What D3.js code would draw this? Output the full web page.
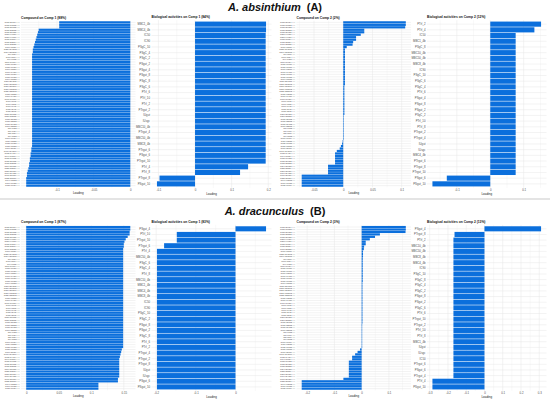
<!DOCTYPE html>
<html>
<head>
<meta charset="utf-8">
<script src="https://cdn.jsdelivr.net/npm/d3@7"></script>
<style>
  body { margin: 0; background: #fff; }
  svg { display: block; font-family: "Liberation Sans", Arial, sans-serif; }
</style>
</head>
<body>
<div id="chart"></div>
<script>
const width = 550;
const height = 400;

// Compound labels (same list order used for the compound panels)
const compounds = [
  "C15H20O4 (+)", "C15H18O3 (+)", "C15H20O3 (+)", "C15H22O3 (+)", "C15H20O5 (+)", "C30H40O6 (+)",
  "C30H40O7 (+)", "C15H18O4 (+)", "C15H22O4 (+)", "C17H22O5 (+)", "C16H18O9 (-)", "C25H24O12 (-)",
  "C34H30O15 (-)", "C9H8O4 (-)", "C10H8O4 (+)", "C9H6O3 (+)", "C11H10O4 (+)", "C15H10O6 (-)",
  "C15H10O7 (-)", "C16H12O7 (-)", "C17H14O7 (-)", "C18H16O7 (-)", "C18H16O8 (-)", "C19H18O8 (-)",
  "C21H20O11 (-)", "C21H20O12 (-)", "C27H30O16 (-)", "C21H18O12 (-)", "C22H22O12 (-)", "C15H12O5 (-)",
  "C16H14O6 (-)", "C17H16O6 (+)", "C10H16O (+)", "C10H18O (+)", "C10H14O (+)", "C15H24O (+)",
  "C15H26O (+)", "C20H30O3 (+)", "C20H32O2 (+)", "C18H30O2 (-)", "C18H32O2 (-)", "C18H34O3 (-)",
  "C16H32O2 (-)", "C7H6O3 (-)", "C7H6O4 (-)", "C8H8O4 (-)", "C9H8O3 (-)", "C10H10O4 (-)",
  "C11H12O5 (-)", "C13H16O8 (-)", "C15H18O8 (-)", "C16H20O9 (-)", "C17H24O10 (-)", "C12H14O4 (+)",
  "C14H18O4 (+)", "C15H16O2 (+)", "C15H20O2 (+)", "C15H22O2 (+)", "C24H30O8 (+)", "C25H32O9 (+)",
  "C20H26O6 (+)", "C19H24O5 (+)", "C17H20O6 (+)", "C22H28O7 (+)", "C14H12O3 (-)", "C16H16O5 (-)",
  "C13H10O4 (-)"
];

// A. absinthium - compound loadings, Comp 1 (display order, top to bottom)
const absComp1 = [
  -0.097, -0.097, -0.097, -0.125, -0.126, -0.127, -0.128, -0.129, -0.130, -0.131,
  -0.132, -0.133, -0.133, -0.134, -0.134, -0.134, -0.134, -0.134, -0.134, -0.134,
  -0.134, -0.134, -0.134, -0.134, -0.134, -0.134, -0.134, -0.134, -0.134, -0.134,
  -0.134, -0.134, -0.134, -0.134, -0.134, -0.134, -0.134, -0.134, -0.134, -0.134,
  -0.134, -0.134, -0.134, -0.134, -0.134, -0.134, -0.134, -0.134, -0.134, -0.134,
  -0.134, -0.135, -0.135, -0.136, -0.136, -0.137, -0.137, -0.138, -0.138, -0.139,
  -0.140, -0.141, -0.141, -0.142, -0.142, -0.142, -0.142
];

// A. absinthium - compound loadings, Comp 2
const absComp2 = [
  0.107, 0.107, 0.106, 0.036, 0.036, 0.030, 0.022, 0.022, 0.017, 0.016,
  0.006, 0.003, 0.003, 0.003, 0.003, 0.003, 0.003, 0.003, 0.003, 0.003,
  0.003, 0.003, 0.003, 0.003, 0.003, 0.003, 0.002, 0.002, 0.002, 0.002,
  0.002, 0.002, 0.002, 0.002, 0.002, 0.002, 0.002, 0.002, 0.001, 0.001,
  0.001, 0.001, 0.001, 0.001, 0.001, 0.001, 0.001, 0.001, -0.001, -0.002,
  -0.004, -0.006, -0.011, -0.014, -0.014, -0.014, -0.014, -0.014, -0.026, -0.026,
  -0.026, -0.026, -0.071, -0.071, -0.071, -0.071, -0.071
];

// A. dracunculus - compound loadings, Comp 1
const draComp1 = [
  0.160, 0.160, 0.159, 0.159, 0.156, 0.153, 0.151, 0.150, 0.150, 0.149,
  0.149, 0.149, 0.149, 0.149, 0.149, 0.149, 0.149, 0.149, 0.149, 0.149,
  0.149, 0.149, 0.149, 0.149, 0.149, 0.149, 0.149, 0.149, 0.149, 0.149,
  0.149, 0.149, 0.149, 0.149, 0.149, 0.149, 0.149, 0.149, 0.149, 0.149,
  0.149, 0.149, 0.149, 0.149, 0.149, 0.149, 0.149, 0.149, 0.149, 0.149,
  0.147, 0.146, 0.145, 0.144, 0.143, 0.143, 0.143, 0.143, 0.143, 0.143,
  0.143, 0.143, 0.141, 0.141, 0.111, 0.111, 0.111
];

// A. dracunculus - compound loadings, Comp 2
const draComp2 = [
  0.162, 0.162, 0.161, 0.067, 0.049, 0.030, 0.015, 0.015, 0.009, 0.008,
  0.005, 0.005, 0.005, 0.004, 0.004, 0.004, 0.004, 0.004, 0.004, 0.004,
  0.004, 0.004, 0.004, 0.003, 0.003, 0.003, 0.003, 0.003, 0.003, 0.003,
  0.003, 0.003, 0.003, 0.003, 0.003, 0.003, 0.003, 0.003, 0.003, 0.003,
  0.002, 0.002, 0.002, 0.002, 0.002, 0.002, 0.002, 0.002, 0.002, 0.002,
  -0.006, -0.015, -0.024, -0.035, -0.035, -0.047, -0.047, -0.047, -0.047, -0.047,
  -0.047, -0.047, -0.067, -0.220, -0.220, -0.220, -0.220
];

// Biological activities: labels and loadings per panel (display order)
const bioLabelsA1 = [
  "MBC1_4b", "MBC4_4b", "IC50", "IC90", "PSgC_10", "PSgC_4", "PSgC_2", "PSgut_2", "PSgut_4", "PSgut_8",
  "PSgC_8", "PSgC_6", "PTrI_6", "PTrI_10", "PTrI_2", "PTrgut_2", "IUgut", "IUsgc", "MBC10_4b", "PTrgut_4",
  "MBC50_4b", "MBC8_4b", "PTrgut_6", "PSgut_6", "PTrgut_10", "PTrI_4", "PTrI_8", "PTrgut_8", "PSgut_10"
];
const bioA1 = [
  0.194, 0.194, 0.193, 0.193, 0.193, 0.193, 0.193, 0.193, 0.193, 0.193,
  0.193, 0.193, 0.193, 0.193, 0.193, 0.193, 0.193, 0.193, 0.193, 0.193,
  0.193, 0.193, 0.193, 0.193, 0.193, 0.145, 0.123, -0.097, -0.104
];

const bioLabelsA2 = [
  "PTrI_2", "PTrI_4", "IC50", "MBC1_4b", "PSgC_8", "MBC10_4b", "MBC50_4b", "MBC8_4b", "IC90", "PSgC_10",
  "PSgC_6", "PSgC_4", "PTrI_6", "PSgut_4", "PSgut_8", "PSgut_2", "PSgC_2", "PTrI_10", "PTrI_8", "PTrgut_2",
  "PTrgut_4", "IUgut", "IUsgc", "MBC4_4b", "PTrgut_6", "PTrgut_8", "PTrgut_10", "PSgut_6", "PSgut_10"
];
const bioA2 = [
  0.152, 0.132, 0.076, 0.076, 0.076, 0.076, 0.076, 0.076, 0.076, 0.076,
  0.076, 0.076, 0.076, 0.076, 0.076, 0.076, 0.076, 0.076, 0.076, 0.076,
  0.076, 0.076, 0.076, 0.076, 0.076, 0.076, 0.076, -0.130, -0.173
];

const bioLabelsB1 = [
  "PSgut_4", "PTrI_10", "PTrgut_10", "PTrgut_6", "PTrI_4", "MBC50_4b", "PSgC_6", "PSgC_4", "PTrI_8", "MBC10_4b",
  "MBC1_4b", "MBC4_4b", "MBC8_4b", "IC50", "IC90", "PSgC_10", "PSgC_2", "PSgut_8", "PSgut_2", "PSgC_8",
  "PTrI_6", "PTrI_2", "PTrgut_4", "PTrgut_2", "PTrgut_8", "IUgut", "IUsgc", "PSgut_6", "PSgut_10"
];
const bioB1 = [
  0.077, -0.148, -0.148, -0.180, -0.198, -0.198, -0.198, -0.198, -0.198, -0.198,
  -0.198, -0.198, -0.198, -0.198, -0.198, -0.198, -0.198, -0.198, -0.198, -0.198,
  -0.198, -0.198, -0.198, -0.198, -0.198, -0.198, -0.198, -0.198, -0.198
];

const bioLabelsB2 = [
  "PSgut_4", "PTrgut_8", "PTrI_2", "MBC10_4b", "MBC50_4b", "MBC8_4b", "MBC4_4b", "IC90", "PSgC_10", "PSgC_8",
  "PSgC_4", "PSgC_2", "PSgut_8", "PSgut_2", "PSgC_6", "PTrI_6", "PTrgut_10", "PTrgut_2", "PTrI_10", "PTrI_8",
  "MBC1_4b", "IUgut", "IUsgc", "IC50", "PTrgut_6", "PSgut_6", "PTrgut_4", "PTrI_4", "PSgut_10"
];
const bioB2 = [
  0.310, -0.164, -0.170, -0.170, -0.170, -0.170, -0.170, -0.170, -0.170, -0.170,
  -0.170, -0.170, -0.170, -0.170, -0.170, -0.170, -0.170, -0.170, -0.170, -0.170,
  -0.170, -0.170, -0.170, -0.170, -0.170, -0.170, -0.170, -0.285, -0.285
];

// x-axis tick values per panel
const ticksA1 = [-0.1, -0.05, 0];
const ticksA2 = [-0.1, 0, 0.1, 0.2];
const ticksA3 = [-0.05, 0, 0.05, 0.1];
const ticksA4 = [-0.1, 0, 0.1];
const ticksB1 = [0, 0.05, 0.1, 0.15];
const ticksB2 = [-0.2, -0.1, 0];
const ticksB3 = [-0.2, -0.1, 0, 0.1];
const ticksB4 = [-0.3, -0.2, -0.1, 0, 0.1, 0.2, 0.3];

const groupTitles = [["A. absinthium", "(A)"], ["A. dracunculus", "(B)"]];

const panels = [
  { row: 0, col: 0, title: "Compound on Comp 1 (88%)", labels: compounds, values: absComp1, ticks: ticksA1, kind: "cmp" },
  { row: 0, col: 1, title: "Biological activities on Comp 1 (84%)", labels: bioLabelsA1, values: bioA1, ticks: ticksA2, kind: "bio" },
  { row: 0, col: 2, title: "Compound on Comp 2 (2%)", labels: compounds, values: absComp2, ticks: ticksA3, kind: "cmp" },
  { row: 0, col: 3, title: "Biological activities on Comp 2 (12%)", labels: bioLabelsA2, values: bioA2, ticks: ticksA4, kind: "bio" },
  { row: 1, col: 0, title: "Compound on Comp 1 (87%)", labels: compounds, values: draComp1, ticks: ticksB1, kind: "cmp" },
  { row: 1, col: 1, title: "Biological activities on Comp 1 (83%)", labels: bioLabelsB1, values: bioB1, ticks: ticksB2, kind: "bio" },
  { row: 1, col: 2, title: "Compound on Comp 2 (3%)", labels: compounds, values: draComp2, ticks: ticksB3, kind: "cmp" },
  { row: 1, col: 3, title: "Biological activities on Comp 2 (13%)", labels: bioLabelsB2, values: bioB2, ticks: ticksB4, kind: "bio" }
];

// layout (pixel edges of each panel's plotting area)
const colEdges = [[21, 135.5], [151.5, 271.5], [296.5, 411], [427, 546.5]];
const rowBars = [[21, 187], [225.7, 390]];
const rowTitleY = [11, 215];
const barColor = "#0b6fdc";
const gridColor = "#e6e6e6";

const svg = d3.select("#chart").append("svg")
  .attr("width", width)
  .attr("height", height)
  .attr("viewBox", `0 0 ${width} ${height}`);

// separator between the two species
svg.append("rect")
  .attr("x", 0).attr("y", 198)
  .attr("width", width).attr("height", 2)
  .attr("fill", "#e4e4e4");

// species titles
groupTitles.forEach((t, i) => {
  const txt = svg.append("text")
    .attr("x", width / 2)
    .attr("y", rowTitleY[i])
    .attr("text-anchor", "middle")
    .attr("font-size", 11)
    .attr("font-weight", "bold")
    .attr("fill", "#111");
  txt.append("tspan").attr("font-style", "italic").text(t[0]);
  txt.append("tspan").attr("dx", 6).text(t[1]);
});

panels.forEach(p => {
  const [x0, x1] = colEdges[p.col];
  const [y0, y1] = rowBars[p.row];
  const n = p.values.length;

  const lo = Math.min(0, d3.min(p.values));
  const hi = Math.max(0, d3.max(p.values));
  const pad = (hi - lo) * 0.05;

  const x = d3.scaleLinear().domain([lo - pad, hi + pad]).range([x0, x1]);
  const y = d3.scaleBand().domain(d3.range(n)).range([y0, y1]).padding(0.1);

  const g = svg.append("g");
  const step = y.step();
  const top = y0 - step * 0.15;
  const bottom = y1 + step * 0.15;

  // minor vertical gridlines at midpoints
  const tv = p.ticks;
  const gap = tv.length > 1 ? tv[1] - tv[0] : 0.1;
  const minors = [];
  for (let i = -1; i < tv.length; i++) {
    const m = (i < 0 ? tv[0] - gap : tv[i]) + gap / 2;
    if (m > x.domain()[0] && m < x.domain()[1]) minors.push(m);
  }
  g.selectAll(".minor").data(minors).enter().append("line")
    .attr("x1", d => x(d)).attr("x2", d => x(d))
    .attr("y1", top).attr("y2", bottom)
    .attr("stroke", gridColor).attr("stroke-width", 0.25);

  // major vertical gridlines
  g.selectAll(".major").data(tv).enter().append("line")
    .attr("x1", d => x(d)).attr("x2", d => x(d))
    .attr("y1", top).attr("y2", bottom)
    .attr("stroke", gridColor).attr("stroke-width", 0.5);

  // horizontal gridlines
  g.selectAll(".hgrid").data(d3.range(n)).enter().append("line")
    .attr("x1", x0).attr("x2", x1)
    .attr("y1", d => y(d) + y.bandwidth() / 2)
    .attr("y2", d => y(d) + y.bandwidth() / 2)
    .attr("stroke", gridColor).attr("stroke-width", 0.5);

  // bars
  g.selectAll(".bar").data(p.values).enter().append("rect")
    .attr("x", d => x(Math.min(0, d)))
    .attr("width", d => Math.abs(x(d) - x(0)))
    .attr("y", (d, i) => y(i))
    .attr("height", y.bandwidth())
    .attr("fill", barColor);

  // y axis (category labels)
  const yAxis = g.append("g")
    .attr("transform", `translate(${x0},0)`)
    .call(d3.axisLeft(y).tickSize(0).tickPadding(1.5).tickFormat(i => p.labels[i]));
  yAxis.select(".domain").remove();
  yAxis.selectAll("text")
    .attr("font-size", p.kind === "cmp" ? 2.3 : 2.8)
    .attr("font-family", "Liberation Sans, Arial, sans-serif")
    .attr("fill", "#4d4d4d");

  // x axis
  const xAxis = g.append("g")
    .attr("transform", `translate(0,${bottom})`)
    .call(d3.axisBottom(x).tickValues(tv).tickSize(0).tickPadding(1.2).tickFormat(d => String(d)));
  xAxis.select(".domain").remove();
  xAxis.selectAll("text")
    .attr("font-size", 2.8)
    .attr("font-family", "Liberation Sans, Arial, sans-serif")
    .attr("fill", "#4d4d4d");

  // axis title
  g.append("text")
    .attr("x", (x0 + x1) / 2)
    .attr("y", bottom + 7)
    .attr("text-anchor", "middle")
    .attr("font-size", 3)
    .attr("fill", "#222")
    .text("Loading");

  // panel title
  g.append("text")
    .attr("x", x0)
    .attr("y", top - 2)
    .attr("font-size", 3.3)
    .attr("font-weight", "bold")
    .attr("fill", "#111")
    .text(p.title);
});
</script>
</body>
</html>
